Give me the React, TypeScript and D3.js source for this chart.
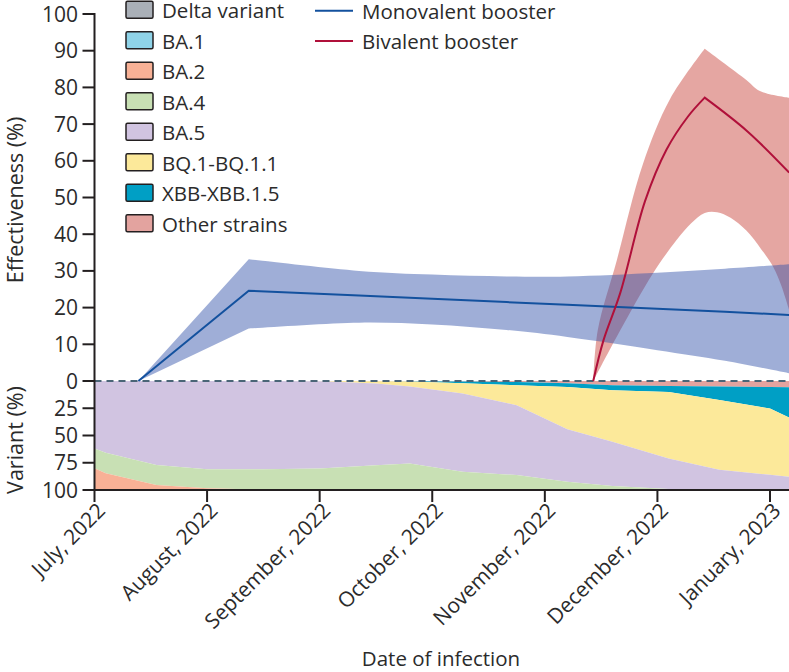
import React from "react";
import * as d3 from "d3";

// ---------- data ----------
const monthLabels = [
  "July, 2022",
  "August, 2022",
  "September, 2022",
  "October, 2022",
  "November, 2022",
  "December, 2022",
  "January, 2023",
];
const effTicks = [0, 10, 20, 30, 40, 50, 60, 70, 80, 90, 100];
const varTicks = [25, 50, 75, 100];

// time expressed as months since 1 July 2022
const monoTime = [0.39, 1.37, 2.35, 3.0, 3.66, 4.2, 5.0, 5.6, 6.17];
const monoEst = [0, 24.6, 23.3, 22.4, 21.5, 20.8, 19.7, 18.9, 18.0];
const monoUpper = [0, 33.2, 30.0, 29.0, 28.5, 28.5, 29.5, 30.6, 31.8];
const monoLower = [0, 14.3, 15.9, 15.4, 13.9, 12.0, 8.4, 5.5, 2.1];

const bivTime = [4.43, 4.52, 4.67, 4.89, 5.08, 5.27, 5.42, 5.8, 6.17];
const bivEst = [0, 11, 24, 49, 63, 72, 77.2, 68, 56.8];
const bivUpperTime = [4.43, 4.47, 4.64, 4.87, 5.11, 5.42, 5.79, 5.91, 6.17];
const bivUpper = [0, 13.8, 33, 59, 76.7, 90.5, 82, 79, 77.2];
const bivLowerTime = [4.43, 4.67, 4.96, 5.17, 5.3, 5.42, 5.53, 5.65, 5.79, 5.92, 6.03, 6.1, 6.17];
const bivLower = [0, 13.8, 29.3, 38.4, 43, 45.8, 46, 44.5, 41, 36, 31, 26, 19.3];

const variantTime = [0, 0.1, 0.55, 1.0, 1.5, 2.0, 2.5, 2.8, 3.27, 3.75, 4.2, 4.6, 5.1, 5.55, 6.0, 6.17];
const delta = [0, 0, 0, 0, 0, 0, 0, 0, 0, 0, 0, 0, 0, 0, 0, 0];
const ba1 = [0, 0, 0, 0, 0, 0, 0, 0, 0, 0, 0, 0, 0, 0, 0, 0];
const ba2 = [20, 15.3, 4.6, 1.6, 0.3, 0, 0, 0, 0, 0, 0, 0, 0, 0, 0, 0];
const ba4 = [18, 18.9, 18.4, 17.4, 18.7, 19.8, 22.7, 24.4, 16.7, 13.7, 7.6, 3.7, 1, 0, 0, 0];
const ba5 = [62, 65.8, 77, 81, 81, 79.9, 75.1, 70.6, 71.8, 64.1, 48.2, 40.6, 28, 18.5, 14, 12.2];
const bq1 = [0, 0, 0, 0, 0, 0.3, 2.0, 4.5, 9.5, 18.2, 38.7, 47.2, 61, 64, 60.7, 54.3];
const xbb = [0, 0, 0, 0, 0, 0, 0, 0.2, 1.5, 3, 3.5, 4.5, 5.5, 12.5, 19.8, 27.8];
const other = [0, 0, 0, 0, 0, 0, 0.2, 0.3, 0.5, 1, 2, 4, 4.5, 5, 5.5, 5.7];

const variantNames = [
  "Delta variant",
  "BA.1",
  "BA.2",
  "BA.4",
  "BA.5",
  "BQ.1-BQ.1.1",
  "XBB-XBB.1.5",
  "Other strains",
];
const variantColors = [
  "#aab0b8",
  "#8fd3e8",
  "#f8b196",
  "#c8e0b4",
  "#d1c4e1",
  "#fce99a",
  "#009fc5",
  "#e3a39f",
];

// ---------- layout ----------
const W = 789;
const H = 672;
const FONT = "'Open Sans', 'Noto Sans', sans-serif";
const TXT = "#2b2b2b";

type P = [number, number];

export default function App() {
  const x = d3.scaleLinear().domain([0, 6]).range([94.5, 770]);
  const yEff = d3.scaleLinear().domain([0, 100]).range([381, 14]);
  const yVar = d3.scaleLinear().domain([0, 100]).range([381, 490]);

  const seriesArrays = [delta, ba1, ba2, ba4, ba5, bq1, xbb, other];
  const rows = variantTime.map((t, i) => {
    const r: any = { t };
    variantNames.forEach((n, k) => (r[n] = seriesArrays[k][i]));
    return r;
  });
  const stackKeys = [...variantNames].reverse(); // stacked from the top (0)
  const stacked = d3.stack().keys(stackKeys)(rows);
  const varArea = d3
    .area<any>()
    .x((d) => x(d.data.t))
    .y0((d) => yVar(d[0]))
    .y1((d) => yVar(d[1]));

  const lin = d3
    .line<P>()
    .x((d) => x(d[0]))
    .y((d) => yEff(d[1]));
  const smooth = d3
    .line<P>()
    .x((d) => x(d[0]))
    .y((d) => yEff(d[1]))
    .curve(d3.curveCatmullRom.alpha(0.5));

  const pts = (ts: number[], vs: number[]) => ts.map((t, i) => [t, vs[i]] as P);
  const join = (...segs: string[]) =>
    segs.map((s, i) => (i === 0 ? s : "L" + s.slice(1))).join("");

  // monovalent
  const monoUp = pts(monoTime, monoUpper);
  const monoLo = pts(monoTime, monoLower);
  const monoBand =
    join(
      lin(monoUp.slice(0, 2)) as string,
      smooth(monoUp.slice(1)) as string,
      smooth(monoLo.slice(1).reverse()) as string,
      lin(monoLo.slice(0, 2).reverse()) as string
    ) + "Z";
  const monoLine = lin(pts(monoTime, monoEst)) as string;

  // bivalent
  const bUp = pts(bivUpperTime, bivUpper);
  const peakU = 5;
  const bLo = pts(bivLowerTime, bivLower);
  const bivBand =
    join(
      smooth(bUp.slice(0, peakU + 1)) as string,
      smooth(bUp.slice(peakU)) as string,
      smooth(bLo.slice().reverse()) as string
    ) + "Z";
  const bE = pts(bivTime, bivEst);
  const peakE = 6;
  const bivLine = join(smooth(bE.slice(0, peakE + 1)) as string, smooth(bE.slice(peakE)) as string);

  const legendRowY = (i: number) => 9.7 + i * 30.5;

  return (
    <svg
      width={W}
      height={H}
      style={{ position: "absolute", left: 0, top: 0, background: "#fff" }}
      fontFamily={FONT}
    >
      {/* variant stacked area */}
      {stacked.map((s) => {
        const idx = variantNames.indexOf(s.key);
        return <path key={s.key} d={varArea(s as any) as string} fill={variantColors[idx]} />;
      })}

      {/* zero dashed line */}
      <line
        x1={x(0)}
        x2={W}
        y1={yEff(0)}
        y2={yEff(0)}
        stroke="#4a6577"
        strokeWidth={2}
        strokeDasharray="7,5"
      />

      {/* confidence bands */}
      <path d={bivBand} fill="rgb(200,70,60)" fillOpacity={0.48} />
      <path d={monoBand} fill="rgb(52,82,170)" fillOpacity={0.47} />

      {/* estimate lines */}
      <path d={monoLine} fill="none" stroke="#13519e" strokeWidth={2} />
      <path d={bivLine} fill="none" stroke="#b0103a" strokeWidth={2} />

      {/* y axis */}
      <line x1={x(0)} x2={x(0)} y1={yEff(100) - 1} y2={yVar(100)} stroke="#231f20" strokeWidth={2} />
      {effTicks.map((v) => (
        <g key={"e" + v}>
          <line x1={x(0) - 12} x2={x(0)} y1={yEff(v)} y2={yEff(v)} stroke="#231f20" strokeWidth={2} />
          <text x={78} y={yEff(v) + 7.5} textAnchor="end" fontSize={21} fill={TXT}>
            {v}
          </text>
        </g>
      ))}
      {varTicks.map((v) => (
        <g key={"v" + v}>
          <line x1={x(0) - 12} x2={x(0)} y1={yVar(v)} y2={yVar(v)} stroke="#231f20" strokeWidth={2} />
          <text x={78} y={yVar(v) + 7.5} textAnchor="end" fontSize={21} fill={TXT}>
            {v}
          </text>
        </g>
      ))}
      <text
        transform={`translate(23,${200}) rotate(-90)`}
        textAnchor="middle"
        fontSize={21.5}
        fill={TXT}
      >
        Effectiveness (%)
      </text>
      <text
        transform={`translate(23,${440}) rotate(-90)`}
        textAnchor="middle"
        fontSize={21.5}
        fill={TXT}
      >
        Variant (%)
      </text>

      {/* x axis */}
      <line x1={x(0) - 1} x2={W} y1={yVar(100)} y2={yVar(100)} stroke="#231f20" strokeWidth={2} />
      {monthLabels.map((m, i) => (
        <g key={m}>
          <line x1={x(i)} x2={x(i)} y1={yVar(100)} y2={yVar(100) + 12} stroke="#231f20" strokeWidth={2} />
          <text
            transform={`translate(${x(i) + 12},${512}) rotate(-45)`}
            textAnchor="end"
            fontSize={21}
            fill={TXT}
          >
            {m}
          </text>
        </g>
      ))}
      <text x={441} y={666} textAnchor="middle" fontSize={20.5} fill={TXT}>
        Date of infection
      </text>

      {/* variant legend */}
      {variantNames.map((n, i) => (
        <g key={"lg" + n}>
          <rect
            x={126}
            y={legendRowY(i) - 8.5}
            width={27}
            height={17}
            rx={1.5}
            fill={variantColors[i]}
            stroke="#231f20"
            strokeWidth={1.5}
          />
          <text x={162} y={legendRowY(i) + 8.5} fontSize={20.5} fill={TXT}>
            {n}
          </text>
        </g>
      ))}

      {/* line legend */}
      <line x1={315} x2={353} y1={10.7} y2={10.7} stroke="#13519e" strokeWidth={2} />
      <text x={362} y={18.5} fontSize={20.5} fill={TXT}>
        Monovalent booster
      </text>
      <line x1={315} x2={353} y1={41} y2={41} stroke="#b0103a" strokeWidth={2} />
      <text x={362} y={49} fontSize={20.5} fill={TXT}>
        Bivalent booster
      </text>
    </svg>
  );
}
